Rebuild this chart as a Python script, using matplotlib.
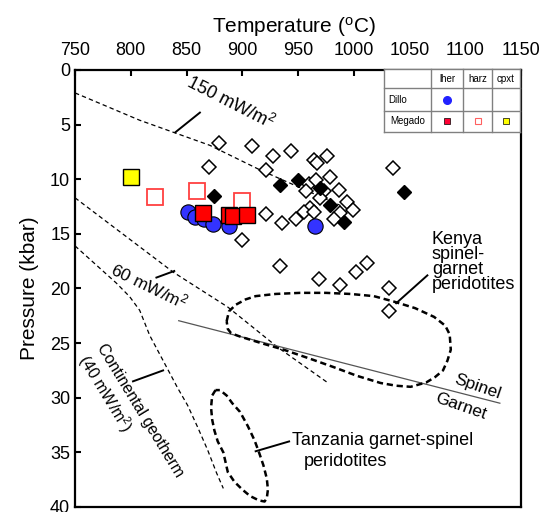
import matplotlib
matplotlib.use("Agg")
import matplotlib.pyplot as plt

plt.rcParams["font.family"] = ["Liberation Sans", "DejaVu Sans"]
plt.rcParams["mathtext.default"] = "regular"

# ── data (T in °C, P in kbar) ────────────────────────────────────────────────
# literature xenoliths, open diamonds
open_T = [879, 909, 928, 944, 870, 921, 964, 976, 967, 979, 960, 966, 957, 973,
          970, 987, 994, 961, 955, 948, 936, 921, 964, 988, 999, 982, 900, 1035,
          934, 969, 988, 1002, 1012, 1032, 1032]
open_P = [6.7, 7.0, 7.9, 7.4, 8.9, 9.2, 8.2, 7.9, 8.5, 9.8, 10.4, 10.1, 11.1, 11.1,
          11.7, 11.0, 12.1, 12.6, 13.0, 13.6, 14.0, 13.2, 13.0, 13.1, 12.8, 13.6, 15.6, 9.0,
          17.9, 19.1, 19.7, 18.5, 17.7, 20.0, 22.1]
# filled diamonds
fill_T = [875, 934, 950, 970, 979, 991, 1045]
fill_P = [11.5, 10.5, 10.1, 10.8, 12.4, 13.9, 11.2]

# Dillo lherzolites
dillo_T = [851, 858, 866, 874, 888, 965]
dillo_P = [13.0, 13.5, 13.6, 14.1, 14.3, 14.3]
# Megado
meg_lher_T = [865, 888, 892, 904]
meg_lher_P = [13.1, 13.3, 13.4, 13.3]
meg_harz_T = [822, 859, 900]
meg_harz_P = [11.6, 11.1, 12.0]
meg_cpxt_T = [800]
meg_cpxt_P = [9.8]

# geotherms
g150_T = [750, 808, 871, 916, 988]
g150_P = [2.1, 4.6, 6.9, 9.15, 12.4]
g60_T = [750, 838, 887, 932, 977]
g60_P = [11.7, 18.5, 21.7, 25.4, 28.65]
g40_T = [750, 787, 799, 808, 817, 829, 842, 851, 860, 869, 877, 883]
g40_P = [16.1, 19.5, 20.75, 22.0, 24.3, 26.6, 29.1, 30.7, 32.7, 34.8, 36.9, 38.3]

# spinel / garnet transition
sg_T = [843, 1131]
sg_P = [22.95, 30.5]

# Kenya spinel-garnet peridotite field
kenya_T = [886, 888, 894, 903, 912, 930, 952, 975, 997, 1018, 1036, 1055, 1072, 1082,
           1086, 1087, 1084, 1080, 1073, 1065, 1051, 1038, 1024, 1003, 982, 960, 937,
           917, 898, 890, 887, 886]
kenya_P = [23.0, 22.1, 21.5, 21.0, 20.7, 20.5, 20.4, 20.4, 20.5, 20.7, 21.2, 21.8, 22.6, 23.4,
           24.2, 25.6, 26.6, 27.5, 28.1, 28.6, 29.0, 28.9, 28.65, 28.0, 27.2, 26.4, 25.6,
           25.0, 24.4, 24.1, 23.7, 23.0]
# Tanzania garnet-spinel peridotite field
tanz_T = [876, 873, 872, 873, 875, 878, 883, 887, 893, 900, 907, 915, 920, 922, 923, 922,
          919, 915, 911, 905, 898, 891, 886, 880, 876]
tanz_P = [29.3, 29.8, 30.9, 32.0, 33.0, 34.0, 35.0, 36.8, 37.7, 38.4, 39.0, 39.4, 39.5, 39.2,
          38.4, 37.4, 36.2, 35.0, 33.9, 32.6, 31.3, 30.5, 29.8, 29.3, 29.3]

xticks = [750, 800, 850, 900, 950, 1000, 1050, 1100, 1150]
yticks = [0, 5, 10, 15, 20, 25, 30, 35, 40]

# ── figure ───────────────────────────────────────────────────────────────────
fig = plt.figure(figsize=(5.44, 5.12), dpi=100)
ax = fig.add_axes([0.1379, 0.0098, 0.8199, 0.8535])
ax.set_xlim(750, 1150)
ax.set_ylim(40, 0)
ax.xaxis.tick_top()
ax.xaxis.set_label_position("top")
ax.set_xticks(xticks)
ax.set_yticks(yticks)
ax.tick_params(direction="in", length=4, width=1.5, labelsize=13,
               top=True, bottom=False, right=False)
ax.tick_params(axis="x", pad=8)
for s in ax.spines.values():
    s.set_linewidth(1.6)
ax.set_xlabel("Temperature ($^{o}$C)", fontsize=15, labelpad=10)
ax.set_ylabel("Pressure (kbar)", fontsize=15, labelpad=8)
ax.xaxis.set_label_coords(0.49, 1.085)

dash_thin = dict(color="black", lw=0.9, dashes=(3.5, 2.5), zorder=1)
ax.plot(g150_T, g150_P, **dash_thin)
ax.plot(g60_T, g60_P, **dash_thin)
ax.plot(g40_T, g40_P, **dash_thin)
ax.plot(sg_T, sg_P, color="#555555", lw=0.9, zorder=1)

dash_thick = dict(color="black", lw=1.8, dashes=(2.5, 1.5), zorder=1)
ax.plot(kenya_T, kenya_P, **dash_thick)
ax.plot(tanz_T, tanz_P, **dash_thick)

# leader lines
leader = dict(color="black", lw=1.4, zorder=1)
ax.plot([840, 862], [5.7, 3.9], **leader)
ax.plot([823, 839], [19.0, 18.4], **leader)
ax.plot([802, 829], [28.5, 27.5], **leader)
ax.plot([1038, 1066], [21.35, 18.8], **leader)
ax.plot([912, 942], [34.9, 34.0], **leader)

# labels
ax.text(889, 3.0, "150 mW/m$^2$", fontsize=13, rotation=-27, ha="center", va="center")
ax.text(817, 19.7, "60 mW/m$^2$", fontsize=12.5, rotation=-26, ha="center", va="center")
ax.text(808, 31.2, "Continental geotherm", fontsize=11.5, rotation=-58.7,
        ha="center", va="center")
ax.text(777, 29.6, "(40 mW/m$^2$)", fontsize=11.5, rotation=-58.7,
        ha="center", va="center")
ax.text(1070, 17.6, "Kenya\nspinel-\ngarnet\nperidotites", fontsize=13,
        ha="left", va="center", linespacing=0.85)
ax.text(1026, 33.9, "Tanzania garnet-spinel", fontsize=13, ha="center", va="center")
ax.text(993, 35.85, "peridotites", fontsize=13, ha="center", va="center")
ax.text(1111, 29.0, "Spinel", fontsize=12.5, rotation=-19, ha="center", va="center")
ax.text(1096, 30.8, "Garnet", fontsize=12.5, rotation=-19, ha="center", va="center")

# data points
ax.plot(open_T, open_P, "D", ms=7, mfc="white", mec="black", mew=1.1, ls="none", zorder=3)
ax.plot(fill_T, fill_P, "D", ms=7, mfc="black", mec="black", ls="none", zorder=3)
ax.plot(dillo_T, dillo_P, "o", ms=11, mfc="#3333ff", mec="black", mew=0.8, ls="none", zorder=4)
ax.plot(meg_harz_T, meg_harz_P, "s", ms=12, mfc="white", mec="#ff4040", mew=1.3, ls="none", zorder=4)
ax.plot(meg_lher_T, meg_lher_P, "s", ms=12, mfc="#ff0000", mec="black", mew=1.0, ls="none", zorder=5)
ax.plot(meg_cpxt_T, meg_cpxt_P, "s", ms=12, mfc="#ffff00", mec="black", mew=1.0, ls="none", zorder=5)

# ── legend table ─────────────────────────────────────────────────────────────
col_edges = [0, 46.7, 79.3, 107.7, 136]
row_edges = [0, 19, 41.7, 62.4]
tax = fig.add_axes([0.706, 0.7428, 0.25, 0.1218])
tax.set_xlim(0, 136)
tax.set_ylim(62.4, 0)
tax.set_facecolor("white")
for s in tax.spines.values():
    s.set_visible(False)
tax.set_xticks([])
tax.set_yticks([])
for x in col_edges:
    tax.plot([x, x], [0, 62.4], color="#808080", lw=1.0, clip_on=False)
for y in row_edges:
    tax.plot([0, 136], [y, y], color="#808080", lw=1.0, clip_on=False)

cx = [(col_edges[i] + col_edges[i + 1]) / 2 for i in range(4)]
cy = [(row_edges[i] + row_edges[i + 1]) / 2 for i in range(3)]
for i, h in enumerate(["lher", "harz", "cpxt"]):
    tax.text(cx[i + 1], cy[0], h, fontsize=7, ha="center", va="center")
tax.text(4, cy[1], "Dillo", fontsize=7, ha="left", va="center")
tax.text(6, cy[2], "Megado", fontsize=7, ha="left", va="center")
tax.plot(cx[1], cy[1], "o", ms=5.5, mfc="#2222ff", mec="#2222ff")
tax.plot(cx[1], cy[2], "s", ms=5, mfc="#ff0033", mec="black", mew=0.5)
tax.plot(cx[2], cy[2], "s", ms=5, mfc="white", mec="#ff6060", mew=0.8)
tax.plot(cx[3], cy[2], "s", ms=5, mfc="#ffff00", mec="black", mew=0.5)

fig.savefig("out.png", dpi=100)
